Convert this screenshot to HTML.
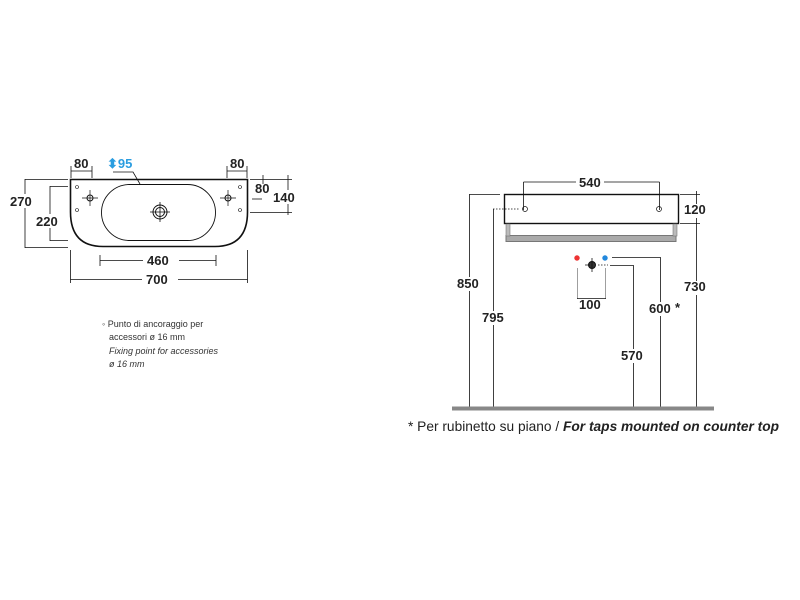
<!DOCTYPE html>
<html><head><meta charset="utf-8"><style>
html,body{margin:0;padding:0;background:#fff;}
svg{display:block;}
text{font-family:"Liberation Sans",sans-serif;}
.b{font-weight:bold;font-size:13px;fill:#222;}
</style></head><body>
<svg width="800" height="600" viewBox="0 0 800 600" xmlns="http://www.w3.org/2000/svg">
<g stroke="#111" fill="none" stroke-width="1">
<path d="M70.5 179.5 H247.5 V212 Q247.5 246.5 215 246.5 H103 Q70.5 246.5 70.5 212 Z" stroke-width="1.6"/>
<rect x="101.5" y="184.5" width="114" height="56" rx="28" stroke-width="0.9"/>
<circle cx="160" cy="212" r="7"/><circle cx="160" cy="212" r="4.5"/>
<path d="M160 202V222M150 212H170" stroke-width="0.8"/>
<circle cx="90" cy="198" r="3"/><path d="M90 190V206M82 198H98" stroke-width="0.7"/>
<circle cx="228" cy="198" r="3"/><path d="M228 190V206M220 198H236" stroke-width="0.7"/>
<g stroke-width="0.6"><circle cx="77" cy="187" r="1.5"/><circle cx="77" cy="210" r="1.5"/><circle cx="240" cy="187" r="1.5"/><circle cx="240" cy="210" r="1.5"/></g>
<g stroke-width="0.8">
<path d="M25 179.5H68M25 247.5H68M25 179V248"/>
<path d="M50 186.5H68M50 240.5H68M50 186V241"/>
<path d="M71 166V178M92 166V178M71 171H92"/>
<path d="M227 166V178M247 166V178M227 171H247"/>
<path d="M113 172H133L140 184"/>
<path d="M250 179.5H292M263 175V184M288 175V215M250 212.5H292"/>
<path d="M252 199H262"/>
<path d="M100 255V266M216 255V266M100 260.5H216"/>
<path d="M70.5 250V283M247.5 250V283M70.5 279.5H247.5"/>
</g>
<rect x="504.5" y="194.5" width="174" height="29" stroke-width="1.4"/>
<rect x="506" y="235.5" width="170" height="6" fill="#aaa" stroke="#777"/>
<rect x="506" y="224" width="4" height="12" fill="#bbb" stroke="#777" stroke-width="0.6"/>
<rect x="673" y="224" width="4" height="12" fill="#bbb" stroke="#777" stroke-width="0.6"/>
<g stroke-width="0.8">
<path d="M523.5 182V210M659.5 182V210M523.5 182H576M604 182H659.5"/>
<path d="M469.5 194V408M469.5 194.5H500"/>
<path d="M493.5 209V408"/>
<path d="M493 209H520" stroke-dasharray="1.5 1.5"/>
<path d="M680 194.5H700M680 223.5H700M696.5 191V408"/>
<path d="M612 257.5H660.5V408"/>
<path d="M610 265.5H633.5V408"/>
<path d="M598 265H608" stroke-dasharray="1.5 1.5"/>
<path d="M577.5 268V299M605.5 268V299" stroke="#888"/>
<path d="M577 298.5H606"/>
</g>
<circle cx="525" cy="209" r="2.5" stroke-width="0.7"/><circle cx="659" cy="209" r="2.5" stroke-width="0.7"/>
<circle cx="577" cy="258" r="2.5" fill="#e33" stroke="#e33" stroke-width="0.5"/>
<circle cx="605" cy="258" r="2.5" fill="#28d" stroke="#28d" stroke-width="0.5"/>
<circle cx="592" cy="265" r="3.5" fill="#333"/><path d="M592 258V272M585 265H590" stroke-width="0.8"/>
<path d="M452 408.5H714" stroke="#888" stroke-width="4"/>
</g>
<g class="b">
<rect x="10" y="194" width="30" height="14" fill="#fff"/><text x="10" y="206" class="b">270</text>
<rect x="36" y="214" width="30" height="14" fill="#fff"/><text x="36" y="226" class="b">220</text>
<text x="74" y="168" class="b">80</text>
<text x="230" y="168" class="b">80</text>
<text x="255" y="193" class="b">80</text>
<rect x="273" y="190" width="25" height="14" fill="#fff"/><text x="273" y="202" class="b">140</text>
<rect x="143" y="254" width="36" height="14" fill="#fff"/><text x="147" y="265" class="b">460</text>
<rect x="142" y="273" width="36" height="14" fill="#fff"/><text x="146" y="284" class="b">700</text>
<text x="579" y="187" class="b">540</text>
<rect x="455" y="277" width="30" height="14" fill="#fff"/><text x="457" y="288" class="b">850</text>
<rect x="481" y="311" width="26" height="14" fill="#fff"/><text x="482" y="322" class="b">795</text>
<rect x="683" y="204" width="26" height="14" fill="#fff"/><text x="684" y="214" class="b">120</text>
<rect x="683" y="281" width="26" height="14" fill="#fff"/><text x="684" y="291" class="b">730</text>
<text x="579" y="309" class="b">100</text>
<rect x="648" y="302" width="26" height="14" fill="#fff"/><text x="649" y="313" class="b">600</text>
<text x="675" y="312" font-size="13" fill="#222">*</text>
<rect x="620" y="349" width="26" height="14" fill="#fff"/><text x="621" y="360" class="b">570</text>
</g>
<text x="107" y="168" font-size="13" font-weight="bold" fill="#2a9de0">⬍95</text>
<g font-size="9" fill="#333">
<text x="102" y="327">◦ Punto di ancoraggio per</text>
<text x="109" y="340">accessori ø 16 mm</text>
<text x="109" y="354" font-style="italic">Fixing point for accessories</text>
<text x="109" y="367" font-style="italic">ø 16 mm</text>
</g>
<text x="408" y="431" font-size="14" fill="#222" textLength="371" lengthAdjust="spacingAndGlyphs">* Per rubinetto su piano / <tspan font-style="italic" font-weight="bold">For taps mounted on counter top</tspan></text>
</svg>
</body></html>
